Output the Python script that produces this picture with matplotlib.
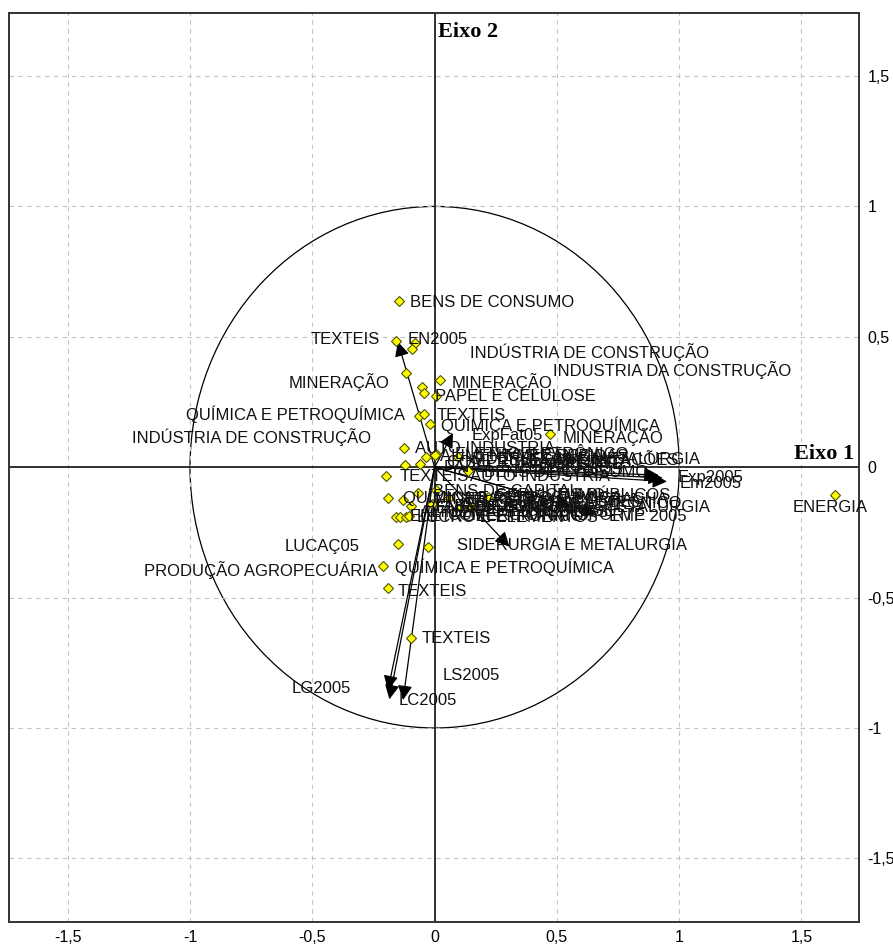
import matplotlib
matplotlib.use("Agg")
from matplotlib import pyplot as plt
from matplotlib.patches import Circle
from matplotlib.ticker import FuncFormatter

# Observations (factor scores) shown as yellow points
obs_x = [-0.146, -0.159, -0.082, -0.091, -0.116, 0.020, -0.050, -0.045, 0.007,
         -0.064, -0.045, -0.020, 0.473, -0.127, -0.122, -0.034, 0.004, -0.061,
         -0.198, 0.136, -0.068, -0.191, -0.130, -0.095, -0.157, -0.140, -0.119,
         -0.105, -0.150, -0.027, -0.211, -0.191, -0.095, 1.635, 0.000, 0.095,
         0.218, 0.109, 0.150, 0.007, -0.012, 0.060]
obs_y = [0.638, 0.484, 0.477, 0.453, 0.362, 0.334, 0.306, 0.283, 0.273,
         0.196, 0.203, 0.166, 0.126, 0.072, 0.008, 0.040, 0.049, 0.012,
         -0.033, -0.015, -0.098, -0.119, -0.126, -0.149, -0.190, -0.190, -0.190,
         -0.187, -0.296, -0.305, -0.379, -0.464, -0.656, -0.107, 0.047, 0.040,
         -0.113, -0.151, -0.151, -0.087, -0.140, -0.120]

# Variables (loadings) drawn as arrows from the origin
var_names = ["EN2005", "ExpFat05", "Fat2005", "Exp2005", "Em2005", "EMP 2005",
             "Lucro05", "Sid05", "LG2005", "LS2005", "LC2005"]
var_x = [-0.150, 0.075, 0.915, 0.932, 0.950, 0.661, 0.560, 0.306, -0.191, -0.185, -0.129]
var_y = [0.481, 0.131, -0.030, -0.041, -0.055, -0.177, -0.150, -0.305, -0.855, -0.890, -0.893]

# Label text and anchor (data coords), right-hand labels
lab_right = ["BENS DE CONSUMO", "EN2005", "INDÚSTRIA DE CONSTRUÇÃO",
             "INDUSTRIA DA CONSTRUÇÃO", "MINERAÇÃO", "PAPEL E CELULOSE", "TEXTEIS",
             "QUÍMICA E PETROQUÍMICA", "ExpFat05", "MINERAÇÃO", "AUTO INDUSTRIA",
             "SIDERURGIA E METALURGIA", "ALIMENTOS E BEBIDAS", "ELETROELETRÔNICO",
             "TELECOMUNICAÇÕES", "PAPEL E CELULOSE", "TRANSPORTE", "TEXTEIS",
             "AUTO INDUSTRIA", "BENS DE CONSUMO", "Exp2005", "Em2005",
             "BENS DE CAPITAL", "QUÍMICA E PETROQUÍMICA", "MINERAÇÃO",
             "TELECOMUNICAÇÕES", "SIDERURGIA E METALURGIA", "ALIMENTOS E BEBIDAS",
             "PAPEL E CELULOSE", "ELETROELETRÔNICO", "LUCRO E ELEMENTOS",
             "COMÉRCIO", "EMP 2005", "SIDERURGIA E METALURGIA",
             "QUÍMICA E PETROQUÍMICA", "TEXTEIS", "TEXTEIS", "LS2005", "LC2005",
             "ENERGIA", "COMÉRCIO VAREJISTA", "MECÂNICA", "DIVERSOS",
             "FARMACÊUTICA", "SERVIÇOS PÚBLICOS", "ELETROELETRÔNICO",
             "BENS DE CONSUMO", "TRANSPORTE", "PLÁSTICO E BORRACHA", "FUMO"]
lab_right_x = [-0.102, -0.110, 0.143, 0.482, 0.068, 0.000, 0.007, 0.025, 0.150,
               0.523, -0.082, 0.143, 0.020, 0.080, 0.266, 0.040, 0.310, -0.143,
               0.143, 0.200, 0.993, 1.001, -0.008, -0.131, 0.000, 0.120, 0.184,
               -0.060, 0.080, -0.102, -0.070, 0.050, 0.715, 0.091, -0.163, -0.150,
               -0.054, 0.034, -0.146, 1.464, 0.050, 0.330, 0.420, 0.000, 0.250,
               0.300, -0.040, 0.400, 0.150, 0.500]
lab_right_y = [0.633, 0.488, 0.443, 0.373, 0.328, 0.273, 0.200, 0.162, 0.123,
               0.117, 0.072, 0.028, 0.040, 0.047, 0.030, -0.003, 0.010, -0.036,
               -0.034, -0.020, -0.041, -0.064, -0.094, -0.115, -0.120, -0.130,
               -0.154, -0.175, -0.170, -0.190, -0.192, -0.185, -0.190, -0.302,
               -0.385, -0.477, -0.655, -0.797, -0.893, -0.154, 0.018, 0.040,
               -0.010, -0.150, -0.105, -0.140, -0.160, -0.185, -0.125, -0.110]

# Left-hand labels (text ends at the anchor)
lab_left = ["TEXTEIS", "MINERAÇÃO", "QUÍMICA E PETROQUÍMICA",
            "INDÚSTRIA DE CONSTRUÇÃO", "LUCAÇ05", "PRODUÇÃO AGROPECUÁRIA", "LG2005"]
lab_left_x = [-0.225, -0.184, -0.123, -0.259, -0.306, -0.232, -0.340]
lab_left_y = [0.488, 0.328, 0.203, 0.117, -0.305, -0.394, -0.848]

ticks = [-1.5, -1, -0.5, 0, 0.5, 1, 1.5]

fig = plt.figure(figsize=(8.93, 9.47), dpi=100)
ax = fig.add_axes([0.0101, 0.0267, 0.9518, 0.9599])
ax.set_xlim(-1.74, 1.735)
ax.set_ylim(-1.743, 1.743)

ax.set_xticks(ticks)
ax.set_yticks(ticks)
fmt = FuncFormatter(lambda v, p: ("%g" % v).replace(".", ","))
ax.xaxis.set_major_formatter(fmt)
ax.yaxis.set_major_formatter(fmt)
ax.yaxis.tick_right()
ax.tick_params(length=0, pad=6, labelsize=11.5)
for t in ax.get_xticklabels() + ax.get_yticklabels():
    t.set_fontfamily("Liberation Sans")
ax.grid(True, ls=(0, (4, 4)), color="#c4c4c4", lw=0.8)
for s in ax.spines.values():
    s.set_color("#333333")
    s.set_linewidth(1.4)

ax.axhline(0, color="#222222", lw=1.3)
ax.axvline(0, color="#222222", lw=1.3)
ax.add_patch(Circle((0, 0), 1.0, fill=False, ec="black", lw=0.9))

for vx, vy in zip(var_x, var_y):
    ax.annotate("", xy=(vx, vy), xytext=(0, 0),
                arrowprops=dict(arrowstyle="-|>", color="black", lw=0.9,
                                mutation_scale=22, shrinkA=0, shrinkB=0))

ax.plot(obs_x, obs_y, "D", color="#ffff00", mec="#505000", mew=0.8, ms=5.5,
        zorder=3)

for txt, lx, ly in zip(lab_right, lab_right_x, lab_right_y):
    ax.text(lx, ly, txt, ha="left", va="center", fontsize=12,
            family="Liberation Sans", color="#111111", zorder=4)
for txt, lx, ly in zip(lab_left, lab_left_x, lab_left_y):
    ax.text(lx, ly, txt, ha="right", va="center", fontsize=12,
            family="Liberation Sans", color="#111111", zorder=4)

ax.text(1.716, 0.012, "Eixo 1", ha="right", va="bottom", fontsize=16,
        family="Liberation Serif", weight="bold")
ax.text(0.012, 1.670, "Eixo 2", ha="left", va="center", fontsize=16,
        family="Liberation Serif", weight="bold")

fig.savefig("out.png", dpi=100)
